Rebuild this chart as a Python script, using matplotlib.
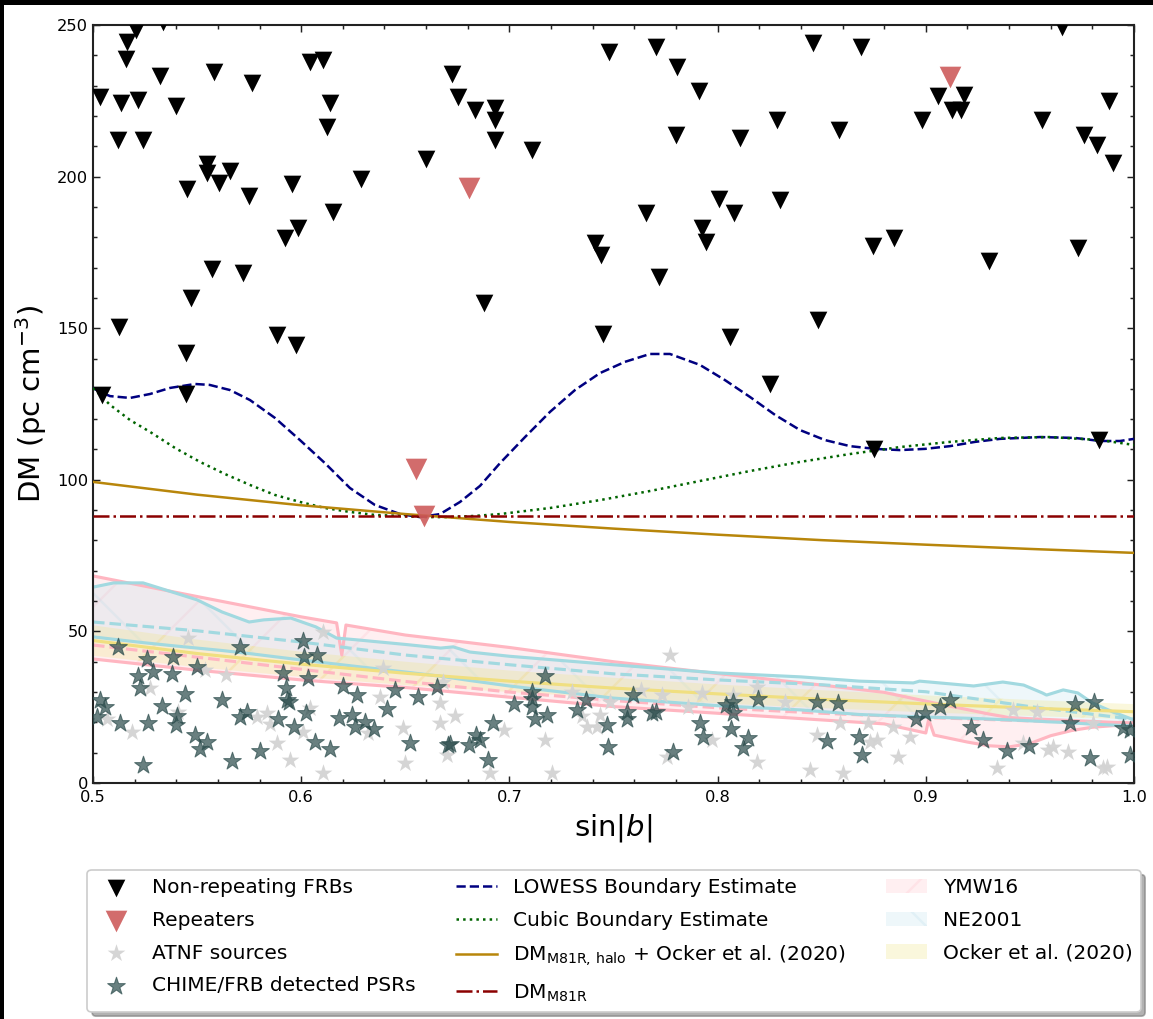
import matplotlib
matplotlib.use("Agg")
import matplotlib.pyplot as plt
from matplotlib.ticker import MultipleLocator
from matplotlib.patches import Rectangle

# ---------------- data ----------------
frb_sinb = [0.5207, 0.5336, 0.5163, 0.5159, 0.5322, 0.5581, 0.5764, 0.6042, 0.6105, 0.5034,
            0.5134, 0.5216, 0.5399, 0.6138, 0.6124, 0.5120, 0.5240, 0.6600, 0.5548, 0.5548,
            0.5658, 0.5451, 0.5605, 0.5749, 0.5956, 0.6287, 0.6153, 0.5985, 0.5922, 0.5572,
            0.5720, 0.5471, 0.5125, 0.5884, 0.5975, 0.5447, 0.5447, 0.5043,
            0.6724, 0.6753, 0.6835, 0.6931, 0.6931, 0.6931, 0.7109, 0.7478, 0.7704, 0.7805,
            0.7911, 0.8285, 0.7800, 0.8108, 0.8007, 0.8300, 0.7656, 0.8079, 0.7925, 0.7944,
            0.7411, 0.7440, 0.7719, 0.6878, 0.7450, 0.8060,
            0.8458, 0.8689, 0.9059, 0.9184, 0.9126, 0.9169, 0.8982, 0.9558, 0.9880, 0.9760,
            0.9822, 0.9899, 0.9654, 0.8583, 0.8746, 0.8847, 0.9304, 0.9731, 0.8482, 0.8252,
            0.8751, 0.9832]
frb_dm = [248.4, 251.0, 244.4, 238.8, 233.2, 234.5, 230.9, 237.8, 238.5, 226.3,
          224.3, 225.3, 223.3, 224.3, 216.4, 212.1, 212.1, 205.8, 204.2, 201.2,
          201.8, 195.9, 197.9, 193.6, 197.6, 199.2, 188.3, 183.1, 179.8, 169.5,
          168.2, 160.0, 150.4, 147.8, 144.5, 141.8, 128.3, 128.0,
          233.8, 226.3, 222.0, 222.6, 218.7, 212.1, 208.8, 241.1, 242.7, 236.2,
          228.2, 218.7, 213.7, 212.7, 192.6, 192.3, 188.0, 188.0, 183.0, 178.4,
          178.1, 174.1, 166.9, 158.3, 148.1, 147.1,
          244.1, 242.7, 226.6, 226.9, 222.0, 222.0, 218.7, 218.7, 224.9, 213.7,
          210.4, 204.5, 249.3, 215.4, 177.1, 179.7, 172.2, 176.5, 152.7, 131.6,
          110.2, 113.1]

rep_sinb = [0.6806, 0.9116, 0.6551, 0.6590]
rep_dm = [196.2, 232.8, 103.6, 88.1]

atnf_sinb = [0.5456, 0.6105, 0.5639, 0.5538, 0.5274, 0.5067, 0.5187, 0.5408, 0.5788, 0.5836,
             0.5850, 0.5884, 0.6009, 0.5946, 0.6105, 0.6042, 0.6321, 0.6378, 0.6393, 0.6499,
             0.6489, 0.6667, 0.6667, 0.6700, 0.6681, 0.6739, 0.6907, 0.6974, 0.7171, 0.7205,
             0.7373, 0.7421, 0.7435, 0.7349, 0.7301, 0.7483, 0.7632, 0.7733, 0.7771, 0.7757,
             0.7858, 0.7925, 0.7973, 0.8074, 0.8189, 0.8189, 0.8324, 0.8444, 0.8477, 0.8588,
             0.8602, 0.8722, 0.8732, 0.8766, 0.8842, 0.8867, 0.8924, 0.9342, 0.9419, 0.9467,
             0.9534, 0.9587, 0.9611, 0.9683, 0.9851, 0.9870, 0.9803]
atnf_dm = [47.8, 49.8, 35.6, 37.3, 31.3, 21.1, 16.8, 23.4, 21.8, 23.1,
           19.5, 13.2, 16.8, 7.6, 3.3, 24.7, 16.5, 28.4, 37.9, 6.6,
           18.1, 26.4, 19.8, 9.2, 33.3, 22.1, 3.3, 17.5, 14.2, 3.3,
           18.5, 18.5, 22.4, 22.1, 30.0, 26.7, 30.7, 29.0, 42.2, 8.6,
           25.1, 29.7, 14.2, 29.0, 31.7, 6.9, 26.7, 4.3, 15.8, 19.8,
           3.3, 19.8, 13.5, 14.2, 18.5, 8.6, 15.2, 4.9, 24.1, 13.2,
           23.4, 10.9, 11.9, 10.2, 4.9, 5.3, 19.8]

psr_sinb = [0.5120, 0.5259, 0.5216, 0.5288, 0.5384, 0.5379, 0.5500, 0.5226, 0.5034, 0.5058,
            0.5019, 0.5130, 0.5264, 0.5331, 0.5403, 0.5399, 0.5442, 0.5490, 0.5514, 0.5548,
            0.5240, 0.5668, 0.5620, 0.5706, 0.5706, 0.5740, 0.5802, 0.5889, 0.5913, 0.5927,
            0.5932, 0.5941, 0.5965, 0.6009, 0.6013, 0.6076, 0.6033, 0.6023, 0.6066, 0.6138,
            0.6182, 0.6201, 0.6244, 0.6258, 0.6268, 0.6306, 0.6350, 0.6412, 0.6451, 0.6523,
            0.6561, 0.6652, 0.6705, 0.7171, 0.7109, 0.7109, 0.7109, 0.7022, 0.7123, 0.7181,
            0.6921, 0.6840, 0.6859, 0.6806, 0.6715, 0.6897, 0.7325, 0.7368, 0.7469, 0.7474,
            0.7594, 0.7565, 0.7565, 0.7685, 0.7704, 0.7786, 0.7915, 0.7930, 0.8040, 0.8074,
            0.8074, 0.8064, 0.8146, 0.8122, 0.8194, 0.8477, 0.8578, 0.8525, 0.8679, 0.8694,
            0.8953, 0.8996, 0.9068, 0.9116, 0.9217, 0.9275, 0.9390, 0.9496, 0.9717, 0.9808,
            0.9693, 0.9789, 0.9947, 0.9980, 0.9980]
psr_dm = [44.9, 41.0, 35.3, 36.6, 41.6, 35.9, 38.3, 31.3, 27.4, 25.1,
          21.8, 19.8, 19.8, 25.4, 22.1, 19.1, 29.4, 15.8, 11.2, 13.5,
          5.9, 7.3, 27.4, 44.9, 21.8, 23.4, 10.6, 21.1, 36.3, 31.3,
          27.4, 26.7, 18.5, 46.8, 41.6, 42.2, 34.6, 23.1, 13.5, 11.2,
          21.4, 32.0, 22.4, 18.5, 29.0, 20.1, 17.8, 24.4, 30.7, 13.2,
          28.4, 31.7, 12.5, 35.3, 30.0, 27.7, 25.1, 26.1, 21.1, 22.4,
          19.8, 15.8, 14.2, 12.5, 12.9, 7.6, 24.1, 27.4, 19.1, 11.9,
          29.0, 23.4, 21.1, 23.1, 23.4, 10.2, 19.8, 15.2, 25.7, 26.7,
          23.1, 17.8, 14.8, 11.5, 27.7, 26.7, 26.4, 13.9, 15.2, 9.2,
          21.1, 23.1, 25.1, 27.4, 18.5, 14.2, 10.6, 12.2, 26.1, 26.7,
          19.8, 8.2, 18.1, 17.5, 9.2]

lowess_sinb = [0.5, 0.5034, 0.5082, 0.5178, 0.5274, 0.537, 0.549, 0.556, 0.5658, 0.5754,
               0.5874, 0.5994, 0.6114, 0.6234, 0.6354, 0.6475, 0.657, 0.6667, 0.6763, 0.6859,
               0.6955, 0.7075, 0.7195, 0.7315, 0.7435, 0.7555, 0.7675, 0.7771, 0.7915, 0.8035,
               0.8156, 0.8276, 0.8396, 0.8516, 0.8636, 0.8756, 0.8876, 0.8996, 0.9116, 0.9236,
               0.9356, 0.9549, 0.9717, 0.9837, 0.9933, 1.0]
lowess_dm = [130.3, 129.0, 127.6, 127.0, 128.3, 130.3, 131.6, 131.3, 129.6, 126.3,
             120.4, 113.1, 105.5, 97.3, 91.7, 88.7, 87.7, 88.7, 92.7, 98.0,
             105.5, 114.1, 122.4, 129.6, 135.2, 138.9, 141.5, 141.5, 137.9, 132.9,
             127.3, 121.4, 116.4, 113.1, 111.1, 110.2, 109.8, 110.2, 111.1, 112.5,
             113.5, 114.1, 113.8, 112.8, 112.8, 113.5]

cubic_sinb = [0.5, 0.5082, 0.5178, 0.5274, 0.5394, 0.5514, 0.5634, 0.5754, 0.5874, 0.5994,
              0.6114, 0.6234, 0.6354, 0.6475, 0.6595, 0.6715, 0.6835, 0.6955, 0.7195, 0.7435,
              0.7675, 0.7915, 0.8156, 0.8396, 0.8636, 0.8876, 0.9116, 0.9356, 0.9597, 0.9837, 1.0]
cubic_dm = [130.3, 124.7, 119.7, 115.8, 110.5, 105.9, 101.9, 98.3, 95.0, 92.7,
            90.7, 89.4, 88.4, 88.1, 87.7, 87.7, 88.1, 88.7, 90.7, 93.3,
            96.3, 99.6, 102.9, 105.9, 108.5, 110.8, 112.5, 113.8, 114.1, 113.1, 111.5]

grid_sinb = [0.5, 0.55, 0.6, 0.65, 0.7, 0.75, 0.8, 0.85, 0.9, 0.95, 1.0]
halo_ocker_dm = [99.3, 95.1, 91.6, 88.7, 86.1, 83.9, 81.9, 80.1, 78.6, 77.2, 75.9]
ocker_dm = [47.0, 42.7, 39.2, 36.2, 33.6, 31.3, 29.4, 27.6, 26.1, 24.7, 23.5]
ocker_lo = [42.0, 38.2, 35.0, 32.3, 30.0, 28.0, 26.3, 24.7, 23.3, 22.1, 21.0]
ocker_hi = [52.0, 47.3, 43.3, 40.0, 37.1, 34.7, 32.5, 30.6, 28.9, 27.4, 26.0]
ymw_mid = [45.5, 41.5, 37.5, 33.5, 30.0, 27.2, 24.8, 23.0, 21.6, 20.5, 19.6]
ne_mid = [53.1, 50.2, 46.5, 42.2, 39.0, 36.0, 34.0, 32.4, 30.1, 25.2, 21.0]

dm_m81r = 88.0

ymw_sinb = [0.5, 0.55, 0.6, 0.617, 0.6195, 0.6215, 0.65, 0.7, 0.75, 0.8, 0.85, 0.88,
            0.9, 0.9014, 0.904, 0.92, 0.93, 0.94, 0.95, 0.96, 0.97, 0.98, 0.99, 1.0]
ymw_hi = [68.3, 61.5, 54.8, 52.8, 42.2, 52.1, 48.8, 44.7, 40.0, 36.1, 32.3, 29.9,
          27.0, 26.8, 26.4, 24.2, 22.8, 21.6, 21.2, 20.9, 20.6, 20.3, 20.0, 19.8]
ymw_lo = [40.9, 37.2, 34.0, 33.1, 33.0, 32.9, 31.5, 28.3, 25.2, 23.0, 20.8, 19.5,
          16.5, 21.0, 15.8, 13.5, 12.3, 11.9, 13.0, 15.6, 17.3, 18.4, 18.9, 19.1]

ne_sinb = [0.5, 0.51, 0.524, 0.538, 0.55, 0.562, 0.575, 0.582, 0.595, 0.607, 0.617, 0.627,
           0.65, 0.667, 0.673, 0.681, 0.7, 0.75, 0.8, 0.84, 0.868, 0.894, 0.897, 0.923,
           0.937, 0.947, 0.956, 0.958, 0.966, 0.973, 0.98, 0.99, 1.0]
ne_hi = [64.6, 66.0, 66.0, 63.0, 60.4, 56.4, 53.1, 53.8, 54.4, 51.5, 47.8, 47.2,
         45.7, 44.5, 44.9, 43.2, 41.8, 39.0, 36.3, 35.0, 33.6, 33.0, 33.6, 32.0,
         33.3, 32.3, 29.7, 29.0, 30.7, 29.7, 26.4, 23.4, 20.8]
ne_lo = [48.2, 47.4, 46.3, 45.3, 44.5, 43.7, 42.7, 42.1, 41.0, 40.0, 39.2, 38.4,
         36.6, 35.2, 34.6, 33.8, 32.0, 28.0, 25.5, 24.1, 22.6, 21.9, 21.8, 21.3,
         20.9, 20.6, 20.3, 20.2, 20.0, 19.7, 19.4, 19.1, 18.8]

# ---------------- figure ----------------
DPI = 300
plt.rcParams['hatch.linewidth'] = 0.6
fig = plt.figure(figsize=(1153 / DPI, 1019 / DPI), dpi=DPI)
ax = fig.add_axes([93 / 1153, 1 - 783 / 1019, (1134 - 93) / 1153, (783 - 25) / 1019])

PINK = '#ffb6c1'
CYAN = '#a2d9e0'
YEL = '#f0df80'

f_ymw = ax.fill_between(ymw_sinb, ymw_lo, ymw_hi, facecolor='pink', edgecolor='pink',
                        alpha=0.25, hatch='/', linewidth=0, zorder=1)
f_ne = ax.fill_between(ne_sinb, ne_lo, ne_hi, facecolor='lightblue', edgecolor='lightblue',
                       alpha=0.2, hatch='\\', linewidth=0, zorder=1)
f_ock = ax.fill_between(grid_sinb, ocker_lo, ocker_hi, facecolor='khaki', edgecolor='khaki',
                        alpha=0.3, hatch='/', linewidth=0, zorder=1)

lw_band = 0.75
ax.plot(ymw_sinb, ymw_hi, color=PINK, lw=lw_band, zorder=2)
ax.plot(ymw_sinb, ymw_lo, color=PINK, lw=lw_band, zorder=2)
ax.plot(grid_sinb, ymw_mid, color=PINK, lw=lw_band, ls='--', zorder=2)
ax.plot(ne_sinb, ne_hi, color=CYAN, lw=lw_band, zorder=2)
ax.plot(ne_sinb, ne_lo, color=CYAN, lw=lw_band, zorder=2)
ax.plot(grid_sinb, ne_mid, color=CYAN, lw=lw_band, ls='--', zorder=2)
ax.plot(grid_sinb, ocker_dm, color=YEL, lw=lw_band, zorder=2)

l_low, = ax.plot(lowess_sinb, lowess_dm, color='navy', ls='--', lw=0.6, zorder=3)
l_cub, = ax.plot(cubic_sinb, cubic_dm, color='darkgreen', ls=':', lw=0.6, zorder=3)
l_halo, = ax.plot(grid_sinb, halo_ocker_dm, color='darkgoldenrod', lw=0.6, zorder=3)
l_m81 = ax.axhline(dm_m81r, color='darkred', ls='-.', lw=0.6, zorder=3)

s_atnf = ax.scatter(atnf_sinb, atnf_dm, marker='*', s=20, color='lightgrey', alpha=0.95,
                    linewidths=0, zorder=4)
s_psr = ax.scatter(psr_sinb, psr_dm, marker='*', s=20, facecolor='darkslategray',
                   edgecolor='darkslategray', alpha=0.72, linewidths=0.25, zorder=4)
s_frb = ax.scatter(frb_sinb, frb_dm, marker='v', s=18, color='black', linewidths=0, zorder=5)
s_rep = ax.scatter(rep_sinb, rep_dm, marker='v', s=27, color='indianred', alpha=0.9,
                   linewidths=0, zorder=5)

ax.set_xlim(0.5, 1.0)
ax.set_ylim(0, 250)
ax.xaxis.set_major_locator(MultipleLocator(0.1))
ax.xaxis.set_minor_locator(MultipleLocator(0.02))
ax.yaxis.set_major_locator(MultipleLocator(50))
ax.yaxis.set_minor_locator(MultipleLocator(10))
ax.tick_params(which='both', direction='in', top=True, right=True, width=0.35,
               colors='#222222', labelcolor='black')
ax.tick_params(which='major', length=1.7, labelsize=3.9)
ax.tick_params(which='minor', length=0.9)
ax.tick_params(axis='x', pad=1.6)
ax.tick_params(axis='y', pad=1.2)
for sp in ax.spines.values():
    sp.set_linewidth(0.5)
    sp.set_color('#222222')

ax.set_xlabel(r'$\sin|b|$', fontsize=7.0)
ax.set_ylabel(r'DM (pc cm$^{-3}$)', fontsize=7.0)
ax.xaxis.set_label_coords(0.5, -0.038)
ax.yaxis.set_label_coords(-0.042, 0.5)

handles = [s_frb, s_rep, s_atnf, s_psr, l_low, l_cub, l_halo, l_m81, f_ymw, f_ne, f_ock]
labels = ['Non-repeating FRBs', 'Repeaters', 'ATNF sources', 'CHIME/FRB detected PSRs',
          'LOWESS Boundary Estimate', 'Cubic Boundary Estimate',
          r'DM$_{\rm M81R,\,halo}$ + Ocker et al. (2020)', r'DM$_{\rm M81R}$',
          'YMW16', 'NE2001', 'Ocker et al. (2020)']
leg = fig.legend(handles, labels, ncol=3, loc='upper center',
                 bbox_to_anchor=(614 / 1153, 1 - 870 / 1019), fontsize=4.85,
                 fancybox=True, shadow={'ox': 1.1, 'oy': -1.1, 'shade': 0.6},
                 frameon=True, borderaxespad=0, labelspacing=0.68)
leg.get_frame().set_linewidth(0.4)
leg.get_frame().set_edgecolor('#cccccc')

# black strips at the top and left edges of the reference image
fig.patches.append(Rectangle((0, 1 - 5 / 1019), 1, 5 / 1019, transform=fig.transFigure,
                             facecolor='black', edgecolor='none', zorder=10))
fig.patches.append(Rectangle((0, 0), 4 / 1153, 1, transform=fig.transFigure,
                             facecolor='black', edgecolor='none', zorder=10))

fig.savefig('out.png', dpi=DPI)
